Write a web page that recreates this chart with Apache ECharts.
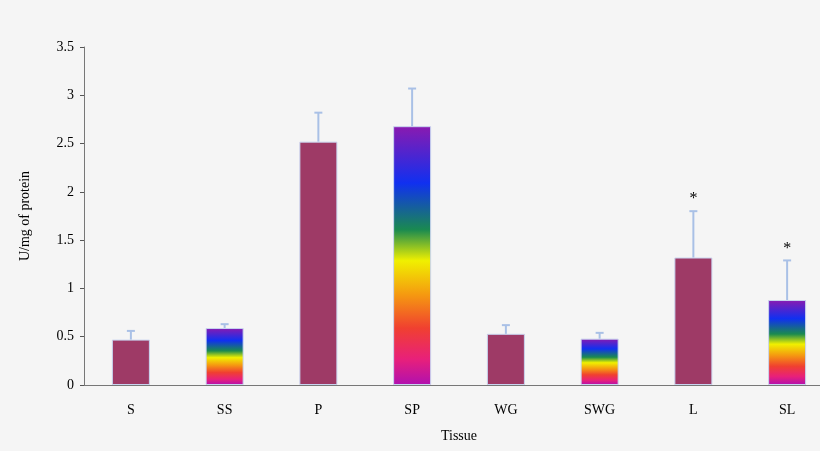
<!DOCTYPE html><html><head><meta charset="utf-8"><script src="https://cdn.jsdelivr.net/npm/echarts@6/dist/echarts.min.js"></script></head>
<body style="margin:0;background:#f5f5f5;overflow:hidden"><div id="c" style="width:840px;height:451px"></div><script>
const categories=['S','SS','P','SP','WG','SWG','L','SL'];
const values=[0.47,0.59,2.52,2.68,0.53,0.48,1.32,0.88];
const errTop=[0.56,0.63,2.82,3.07,0.62,0.54,1.80,1.29];
const rainbow=[false,true,false,true,false,true,false,true];
const marks=['','','','','','','*','*'];
const grad=()=>new echarts.graphic.LinearGradient(0,0,0,1,[
{offset:0,color:'#8a1ab0'},{offset:0.22,color:'#1030f0'},{offset:0.4,color:'#1a8a50'},
{offset:0.52,color:'#f0f000'},{offset:0.65,color:'#f59a10'},{offset:0.78,color:'#f04030'},
{offset:0.9,color:'#e8207a'},{offset:1,color:'#b010b0'}]);
const ch=echarts.init(document.getElementById('c'));
ch.setOption({backgroundColor:'#f5f5f5',animation:false,
grid:{left:84,top:47,width:750,height:338},
xAxis:{type:'category',data:categories,axisLine:{lineStyle:{color:'#777'}},axisTick:{lineStyle:{color:'#555'},length:4},
 axisLabel:{fontFamily:'Liberation Serif',fontSize:14,color:'#000',margin:18},name:'Tissue',nameLocation:'middle',nameGap:44,
 nameTextStyle:{fontFamily:'Liberation Serif',fontSize:14,color:'#000'}},
yAxis:{type:'value',min:0,max:3.5,interval:0.5,splitLine:{show:false},axisLine:{show:true,lineStyle:{color:'#777'}},
 axisTick:{show:true,inside:false,length:4,lineStyle:{color:'#555'}},
 axisLabel:{fontFamily:'Liberation Serif',fontSize:14,color:'#000',margin:10},
 name:'U/mg of protein',nameLocation:'middle',nameGap:52,nameTextStyle:{fontFamily:'Liberation Serif',fontSize:14,color:'#000'}},
series:[{type:'bar',barWidth:38,data:values.map((v,i)=>({value:v,itemStyle:{color:rainbow[i]?grad():'#9e3a66',borderColor:'#c8d4ef',borderWidth:1}})),z:2},
{type:'custom',z:3,data:values.map((v,i)=>[i,v,errTop[i]]),renderItem:(p,api)=>{
 const a=api.coord([api.value(0),api.value(1)]),b=api.coord([api.value(0),api.value(2)]);
 const st={stroke:'#a9c0e6',lineWidth:2};const ch=[
 {type:'line',shape:{x1:a[0],y1:a[1],x2:b[0],y2:b[1]},style:st},
 {type:'line',shape:{x1:b[0]-4,y1:b[1],x2:b[0]+4,y2:b[1]},style:st}];
 const m=marks[api.value(0)];
 if(m)ch.push({type:'text',style:{text:m,x:b[0],y:b[1]-4,align:'center',verticalAlign:'bottom',fill:'#000',font:'16px Liberation Serif'}});
 return {type:'group',children:ch};}}]});
</script></body></html>
